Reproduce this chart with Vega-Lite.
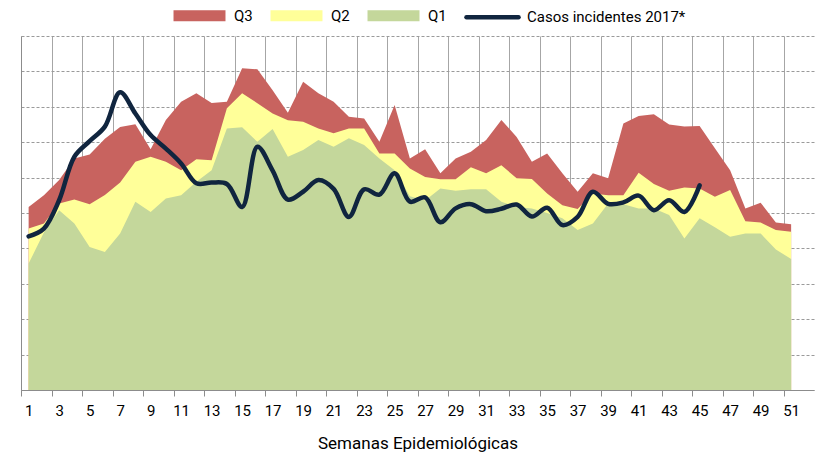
{
  "$schema": "https://vega.github.io/schema/vega-lite/v6.json",
  "width": 793,
  "height": 354,
  "autosize": {"type": "none"},
  "padding": {"left": 21, "top": 36, "right": 3, "bottom": 70},
  "background": "white",
  "config": {
    "view": {"stroke": null},
    "font": "Roboto"
  },
  "data": {
    "values": [
      {"semana": 1, "Q3": 51.7, "Q2": 45.6, "Q1": 35.7, "casos": 43.4},
      {"semana": 2, "Q3": 55.0, "Q2": 47.0, "Q1": 44.5, "casos": 45.6},
      {"semana": 3, "Q3": 59.3, "Q2": 52.7, "Q1": 50.8, "casos": 53.6},
      {"semana": 4, "Q3": 65.4, "Q2": 53.8, "Q1": 47.0, "casos": 65.9},
      {"semana": 5, "Q3": 66.5, "Q2": 52.5, "Q1": 40.4, "casos": 70.3},
      {"semana": 6, "Q3": 71.0, "Q2": 55.1, "Q1": 39.0, "casos": 74.4},
      {"semana": 7, "Q3": 74.3, "Q2": 58.6, "Q1": 44.2, "casos": 84.1},
      {"semana": 8, "Q3": 75.1, "Q2": 64.5, "Q1": 53.2, "casos": 78.1},
      {"semana": 9, "Q3": 68.0, "Q2": 65.9, "Q1": 50.3, "casos": 72.0},
      {"semana": 10, "Q3": 76.3, "Q2": 64.5, "Q1": 54.1, "casos": 68.2},
      {"semana": 11, "Q3": 81.4, "Q2": 62.1, "Q1": 55.0, "casos": 64.0},
      {"semana": 12, "Q3": 83.8, "Q2": 65.2, "Q1": 58.8, "casos": 58.4},
      {"semana": 13, "Q3": 81.1, "Q2": 64.9, "Q1": 62.1, "casos": 58.6},
      {"semana": 14, "Q3": 81.4, "Q2": 79.6, "Q1": 73.9, "casos": 58.2},
      {"semana": 15, "Q3": 90.9, "Q2": 83.8, "Q1": 74.2, "casos": 51.7},
      {"semana": 16, "Q3": 90.6, "Q2": 81.0, "Q1": 70.1, "casos": 68.7},
      {"semana": 17, "Q3": 84.7, "Q2": 78.1, "Q1": 73.7, "casos": 62.0},
      {"semana": 18, "Q3": 78.3, "Q2": 76.2, "Q1": 65.9, "casos": 53.8},
      {"semana": 19, "Q3": 87.1, "Q2": 75.8, "Q1": 67.8, "casos": 56.0},
      {"semana": 20, "Q3": 83.8, "Q2": 73.9, "Q1": 70.6, "casos": 59.3},
      {"semana": 21, "Q3": 81.4, "Q2": 72.5, "Q1": 68.7, "casos": 56.8},
      {"semana": 22, "Q3": 77.2, "Q2": 73.9, "Q1": 71.1, "casos": 48.9},
      {"semana": 23, "Q3": 76.7, "Q2": 73.9, "Q1": 69.2, "casos": 56.7},
      {"semana": 24, "Q3": 70.1, "Q2": 66.8, "Q1": 65.4, "casos": 55.2},
      {"semana": 25, "Q3": 80.5, "Q2": 66.8, "Q1": 62.1, "casos": 61.2},
      {"semana": 26, "Q3": 65.4, "Q2": 62.6, "Q1": 54.7, "casos": 53.2},
      {"semana": 27, "Q3": 68.0, "Q2": 60.2, "Q1": 53.5, "casos": 54.4},
      {"semana": 28, "Q3": 61.2, "Q2": 59.5, "Q1": 56.9, "casos": 47.4},
      {"semana": 29, "Q3": 65.4, "Q2": 59.5, "Q1": 56.3, "casos": 51.3},
      {"semana": 30, "Q3": 67.3, "Q2": 62.9, "Q1": 56.7, "casos": 52.5},
      {"semana": 31, "Q3": 70.6, "Q2": 61.2, "Q1": 56.7, "casos": 50.5},
      {"semana": 32, "Q3": 76.3, "Q2": 63.5, "Q1": 53.2, "casos": 51.2},
      {"semana": 33, "Q3": 71.5, "Q2": 59.8, "Q1": 51.7, "casos": 52.4},
      {"semana": 34, "Q3": 64.5, "Q2": 59.6, "Q1": 51.3, "casos": 49.0},
      {"semana": 35, "Q3": 66.8, "Q2": 55.5, "Q1": 50.0, "casos": 51.5},
      {"semana": 36, "Q3": 61.2, "Q2": 52.2, "Q1": 48.5, "casos": 46.6},
      {"semana": 37, "Q3": 56.0, "Q2": 51.1, "Q1": 45.2, "casos": 48.9},
      {"semana": 38, "Q3": 61.2, "Q2": 55.5, "Q1": 47.0, "casos": 56.0},
      {"semana": 39, "Q3": 59.8, "Q2": 55.0, "Q1": 52.7, "casos": 52.6},
      {"semana": 40, "Q3": 75.3, "Q2": 55.0, "Q1": 52.5, "casos": 53.0},
      {"semana": 41, "Q3": 77.4, "Q2": 61.4, "Q1": 51.3, "casos": 54.9},
      {"semana": 42, "Q3": 77.9, "Q2": 58.2, "Q1": 51.3, "casos": 50.8},
      {"semana": 43, "Q3": 75.0, "Q2": 56.3, "Q1": 49.4, "casos": 53.6},
      {"semana": 44, "Q3": 74.4, "Q2": 57.2, "Q1": 42.8, "casos": 50.3},
      {"semana": 45, "Q3": 74.6, "Q2": 56.9, "Q1": 48.5, "casos": 57.8},
      {"semana": 46, "Q3": 68.3, "Q2": 54.6, "Q1": 46.0, "casos": null},
      {"semana": 47, "Q3": 62.1, "Q2": 56.5, "Q1": 43.3, "casos": null},
      {"semana": 48, "Q3": 51.3, "Q2": 47.7, "Q1": 44.2, "casos": null},
      {"semana": 49, "Q3": 52.9, "Q2": 47.3, "Q1": 44.2, "casos": null},
      {"semana": 50, "Q3": 47.3, "Q2": 45.2, "Q1": 39.7, "casos": null},
      {"semana": 51, "Q3": 46.8, "Q2": 44.7, "Q1": 37.0, "casos": null}
    ]
  },
  "encoding": {
    "x": {
      "field": "semana",
      "type": "quantitative",
      "scale": {"domain": [0.5, 52.5], "nice": false, "zero": false},
      "axis": {
        "title": "Semanas Epidemiológicas",
        "values": [1, 3, 5, 7, 9, 11, 13, 15, 17, 19, 21, 23, 25, 27, 29, 31, 33, 35, 37, 39, 41, 43, 45, 47, 49, 51, 53],
        "labelExpr": "datum.value > 52 ? '' : datum.label",
        "tickOffset": -7.625,
        "labelOffset": 7.625,
        "grid": true,
        "gridColor": "#A6A6A6",
        "gridWidth": 1,
        "gridOpacity": 1,
        "domainColor": "#8C8C8C",
        "tickColor": "#8C8C8C",
        "tickSize": 6,
        "labelFontSize": 15,
        "labelColor": "#000000",
        "labelPadding": 7,
        "labelFlush": false,
        "labelOverlap": false,
        "titleFontSize": 17,
        "titleFontWeight": "normal",
        "titleColor": "#000000",
        "titlePadding": 17
      }
    }
  },
  "layer": [
    {
      "mark": {"type": "area", "opacity": 1},
      "encoding": {
        "y": {
          "field": "Q3",
          "type": "quantitative",
          "scale": {"domain": [0, 100], "nice": false},
          "axis": {
            "title": null,
            "labels": false,
            "ticks": false,
            "values": [0, 10, 20, 30, 40, 50, 60, 70, 80, 90, 100],
            "grid": true,
            "gridDash": [3, 2],
            "gridColor": "#9A9A9A",
            "gridOpacity": 1,
            "domainColor": "#8C8C8C"
          }
        },
        "color": {"datum": "Q3"}
      }
    },
    {
      "mark": {"type": "area", "opacity": 1},
      "encoding": {
        "y": {
          "field": "Q2",
          "type": "quantitative",
          "axis": {
            "title": null,
            "labels": false,
            "ticks": false,
            "values": [0, 10, 20, 30, 40, 50, 60, 70, 80, 90, 100],
            "grid": true,
            "gridDash": [3, 2],
            "gridColor": "#9A9A9A",
            "gridOpacity": 1,
            "domainColor": "#8C8C8C"
          }
        },
        "color": {"datum": "Q2"}
      }
    },
    {
      "mark": {"type": "area", "opacity": 1},
      "encoding": {
        "y": {
          "field": "Q1",
          "type": "quantitative",
          "axis": {
            "title": null,
            "labels": false,
            "ticks": false,
            "values": [0, 10, 20, 30, 40, 50, 60, 70, 80, 90, 100],
            "grid": true,
            "gridDash": [3, 2],
            "gridColor": "#9A9A9A",
            "gridOpacity": 1,
            "domainColor": "#8C8C8C"
          }
        },
        "color": {"datum": "Q1"}
      }
    },
    {
      "mark": {"type": "line", "interpolate": "catmull-rom", "strokeWidth": 4.5, "strokeCap": "round", "strokeJoin": "round"},
      "encoding": {
        "y": {
          "field": "casos",
          "type": "quantitative",
          "axis": {
            "title": null,
            "labels": false,
            "ticks": false,
            "values": [0, 10, 20, 30, 40, 50, 60, 70, 80, 90, 100],
            "grid": true,
            "gridDash": [3, 2],
            "gridColor": "#9A9A9A",
            "gridOpacity": 1,
            "domainColor": "#8C8C8C"
          }
        },
        "color": {
          "datum": "Casos incidentes 2017*",
          "scale": {
            "domain": ["Q3", "Q2", "Q1", "Casos incidentes 2017*"],
            "range": ["#C8635F", "#FFFF99", "#C4D79B", "#10253F"]
          },
          "legend": {
            "title": null,
            "orient": "none",
            "direction": "horizontal",
            "legendX": 150,
            "legendY": -49,
            "labelFontSize": 15,
            "labelColor": "#000000",
            "labelOffset": 6,
            "labelLimit": 400,
            "columnPadding": 10,
            "symbolSize": 2704,
            "symbolType": "M-0.913,-0.125H0.913V0.125H-0.913Z",
            "symbolStrokeWidth": 4.5,
            "encode": {
              "symbols": {
                "update": {
                  "shape": {"signal": "datum.value === 'Casos incidentes 2017*' ? 'M-1,0H1' : 'M-0.913,-0.125H0.913V0.125H-0.913Z'"},
                  "fill": {"signal": "datum.value === 'Casos incidentes 2017*' ? 'transparent' : scale('color', datum.value)"},
                  "stroke": {"signal": "scale('color', datum.value)"},
                  "strokeCap": {"value": "round"},
                  "opacity": {"value": 1}
                }
              }
            }
          }
        }
      }
    }
  ]
}
